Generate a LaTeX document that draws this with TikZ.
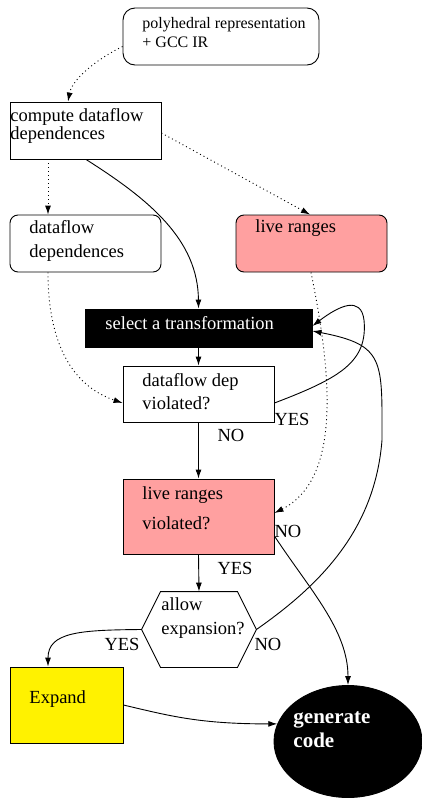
\documentclass[tikz,border=0pt]{standalone}
\usepackage{fontspec}
\setmainfont{Liberation Serif}
\usetikzlibrary{arrows.meta,calc,shapes.geometric}
\definecolor{pinkfill}{RGB}{255,160,160}
\begin{document}
\begin{tikzpicture}[x=1pt,y=-1pt,line width=0.9pt,
  boxnode/.style={draw=black,inner sep=0pt,line width=0.9pt},
  txt/.style={inner sep=0pt,anchor=west,align=left,font=\fontsize{18.5}{24}\selectfont},
  lbl/.style={inner sep=0pt,font=\fontsize{18.5}{20}\selectfont},
  arr/.style={-{Latex[length=9pt,width=6pt]}},
  dotline/.style={arr,dash pattern=on 1pt off 3pt}]
\useasboundingbox (0,0) rectangle (422,798);
% nodes
\node[boxnode,rounded corners=12pt,minimum width=196pt,minimum height=57pt] (poly) at (221,36.5) {};
\node[txt,font=\fontsize{16}{19}\selectfont] (polyt) at (142,33) {polyhedral representation\\+ GCC IR};
\node[boxnode,minimum width=151pt,minimum height=57pt] (comp) at (85.5,130.5) {};
\node[txt,font=\fontsize{18.5}{18}\selectfont] (compt) at (10,125.5) {compute dataflow\\dependences};
\node[boxnode,rounded corners=8pt,minimum width=151pt,minimum height=57pt] (dfd) at (85.5,243.5) {};
\node[txt] (dfdt) at (29,240.5) {dataflow\\dependences};
\node[boxnode,rounded corners=8pt,fill=pinkfill,minimum width=151pt,minimum height=57pt] (live) at (311.5,243.5) {};
\node[txt] (livet) at (255,228) {live ranges};
\node[boxnode,fill=black,minimum width=227pt,minimum height=38pt] (sel) at (198.5,328) {};
\node[txt,text=white] (selt) at (105,323) {select a transformation};
\node[boxnode,minimum width=151pt,minimum height=56pt] (dv) at (198.5,394) {};
\node[txt,font=\fontsize{18.5}{23}\selectfont] (dvt) at (142,392) {dataflow dep\\violated?};
\node[boxnode,fill=pinkfill,minimum width=151pt,minimum height=75pt] (lv) at (198.5,516.5) {};
\node[txt,font=\fontsize{18.5}{30}\selectfont] (lvt) at (142,508.5) {live ranges\\violated?};
\node[inner sep=0pt,minimum width=114pt,minimum height=75pt] (hex) at (199,629.5) {};
\draw (hex.west) -- ($(hex.north west)+(19,0)$) -- ($(hex.north east)+(-19,0)$) -- (hex.east)
  -- ($(hex.south east)+(-19,0)$) -- ($(hex.south west)+(19,0)$) -- cycle;
\node[txt] (hext) at (161,618.5) {allow\\expansion?};
\node[boxnode,fill=yellow,minimum width=113pt,minimum height=76pt] (exp) at (66.5,705) {};
\node[txt] (expt) at (29,699) {Expand};
\node[draw,ellipse,fill=black,inner sep=0pt,minimum width=148pt,minimum height=112pt] (gen) at (348,741.5) {};
\node[txt,text=white,font=\bfseries\fontsize{21}{24}\selectfont] (gent) at (293,730) {generate\\code};
% edges
\draw[dotline] ($(poly.west)+(0,10)$) .. controls (95,60) and (72,80) .. ($(comp.north)+(-17.5,0)$);
\draw[dotline] ($(comp.east)+(0,2.5)$) -- ($(live.north)+(-1.5,0)$);
\draw[dotline] ($(comp.south)+(-37.5,0)$) -- ($(dfd.north)+(-37.5,0)$);
\draw[arr] ($(comp.south)+(0.5,0)$) .. controls (150,200) and (198,240) .. (sel.north);
\draw[dotline] ($(dfd.south)+(-37.5,0)$) .. controls (48,340) and (70,385) .. ($(dv.west)+(0,9)$);
\draw[dotline] ($(live.south)+(-0.5,0)$) .. controls (333,380) and (340,480) .. ($(lv.east)+(0,-3.5)$);
\draw[arr] (sel.south) -- (dv.north);
\draw[arr] ($(dv.east)+(0,9)$) .. controls (340,378) and (368,362) .. (364,320)
  .. controls (361,296) and (340,305) .. ($(sel.east)+(0,-2)$);
\draw[arr] (dv.south) -- (lv.north);
\draw[arr] (lv.south) -- (hex.north);
\draw[arr] ($(lv.east)+(0,19.5)$) .. controls (310,590) and (348,630) .. (gen.north);
\draw[arr] (hex.east) .. controls (320,585) and (375,530) .. (382,440)
  .. controls (382,360) and (385,345) .. ($(sel.east)+(0,3)$);
\draw[arr] (hex.west) .. controls (80,630) and (48,632) .. ($(exp.north)+(-18.5,0)$);
\draw[arr] (exp.east) .. controls (170,716) and (200,724) .. (gen.166);
% labels
\node[lbl] (yes1) at (292,419) {YES};
\node[lbl] (no1) at (231,435) {NO};
\node[lbl] (no2) at (288,531) {NO};
\node[lbl] (yes2) at (235,568) {YES};
\node[lbl] (yes3) at (122,644) {YES};
\node[lbl] (no3) at (268,644) {NO};
\end{tikzpicture}
\end{document}
